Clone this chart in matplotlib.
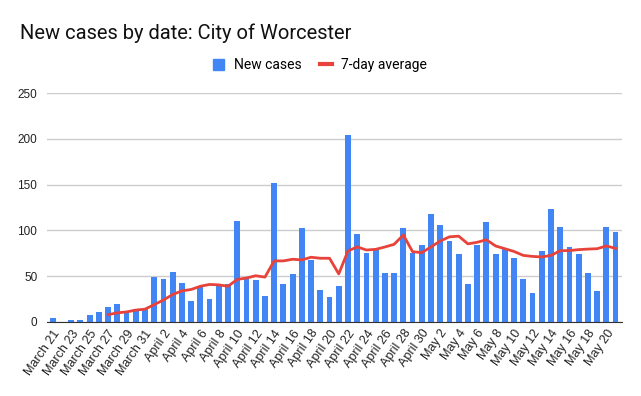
import matplotlib.pyplot as plt
import numpy as np
import pandas as pd
from matplotlib.patches import Patch
from matplotlib.lines import Line2D

# Daily data, March 21 - May 21
dates = pd.date_range('2020-03-21', '2020-05-21')
labels = [f"{d.strftime('%B')} {d.day}" for d in dates]

new_cases = [4, 0, 2, 2, 8, 11, 16, 20, 11, 14, 14,
             49, 47, 55, 43, 23, 38, 25, 41, 41, 110, 47, 46, 28, 152, 41,
             52, 103, 68, 35, 27, 39, 204, 96, 75, 79, 53, 54, 103, 75, 84,
             118, 106, 88, 74, 41, 84, 109, 74, 80, 70, 47, 32, 78, 123, 104,
             82, 74, 53, 34, 104, 98]

# 7-day average begins on March 27
avg_start = 6
avg7 = [8, 10, 11, 13, 14, 19, 24, 30, 34, 35.5, 39, 41, 40.5, 39, 46.5,
        48, 50.5, 49, 66.7, 66.7, 68.5, 67.8, 70.7, 69.6, 69.6, 52.5, 77.5,
        82, 78.6, 79.3, 81.9, 84.8, 95, 76.8, 75.7, 82, 88.4, 93, 93.7, 85.3,
        87, 89.8, 83, 80, 77, 72.7, 71.6, 71, 72.7, 77.8, 78, 79, 79.6, 80,
        83, 80.4]

blue = '#4285F4'
red = '#E8433A'

fig = plt.figure(figsize=(6.41, 3.96), dpi=100)
ax = fig.add_axes([47/641, 1 - 322/396, 575/641, 229/396])

x = np.arange(len(new_cases))
ax.bar(x, new_cases, width=0.63, color=blue, zorder=2)
ax.plot(x[avg_start:], avg7, color=red, lw=2, zorder=3)

ax.set_xlim(-0.62, 61.7)
ax.set_ylim(0, 250)
ax.set_yticks(range(0, 251, 50))
ax.grid(axis='y', color='#cccccc', lw=1, zorder=0)
for s in ['top', 'right', 'left']:
    ax.spines[s].set_visible(False)
ax.spines['bottom'].set_color('#333333')
ax.tick_params(axis='y', length=0, pad=7, labelsize=8.5, labelcolor='#222222')
ax.set_xticks(x[::2])
ax.set_xticklabels(labels[::2], rotation=55, ha='right', rotation_mode='anchor',
                   fontsize=9, color='#222222', family='Liberation Sans')
ax.tick_params(axis='x', length=0, pad=4)
for t in ax.get_yticklabels():
    t.set_family('Liberation Sans')

fig.text(20/641, 1 - 33/396, 'New cases by date: City of Worcester',
         fontsize=14.5, va='center', family='Roboto', color='#111111')

handles = [Patch(color=blue, label='New cases'),
           Line2D([], [], color=red, lw=3, label='7-day average')]
fig.legend(handles=handles, loc='center', bbox_to_anchor=(320/641, 1 - 65/396),
           ncol=2, frameon=False, handlelength=0.85, handleheight=0.85,
           columnspacing=1.3, handletextpad=0.7,
           prop={'family': 'Roboto', 'size': 10})

fig.savefig('out.png', dpi=100)
